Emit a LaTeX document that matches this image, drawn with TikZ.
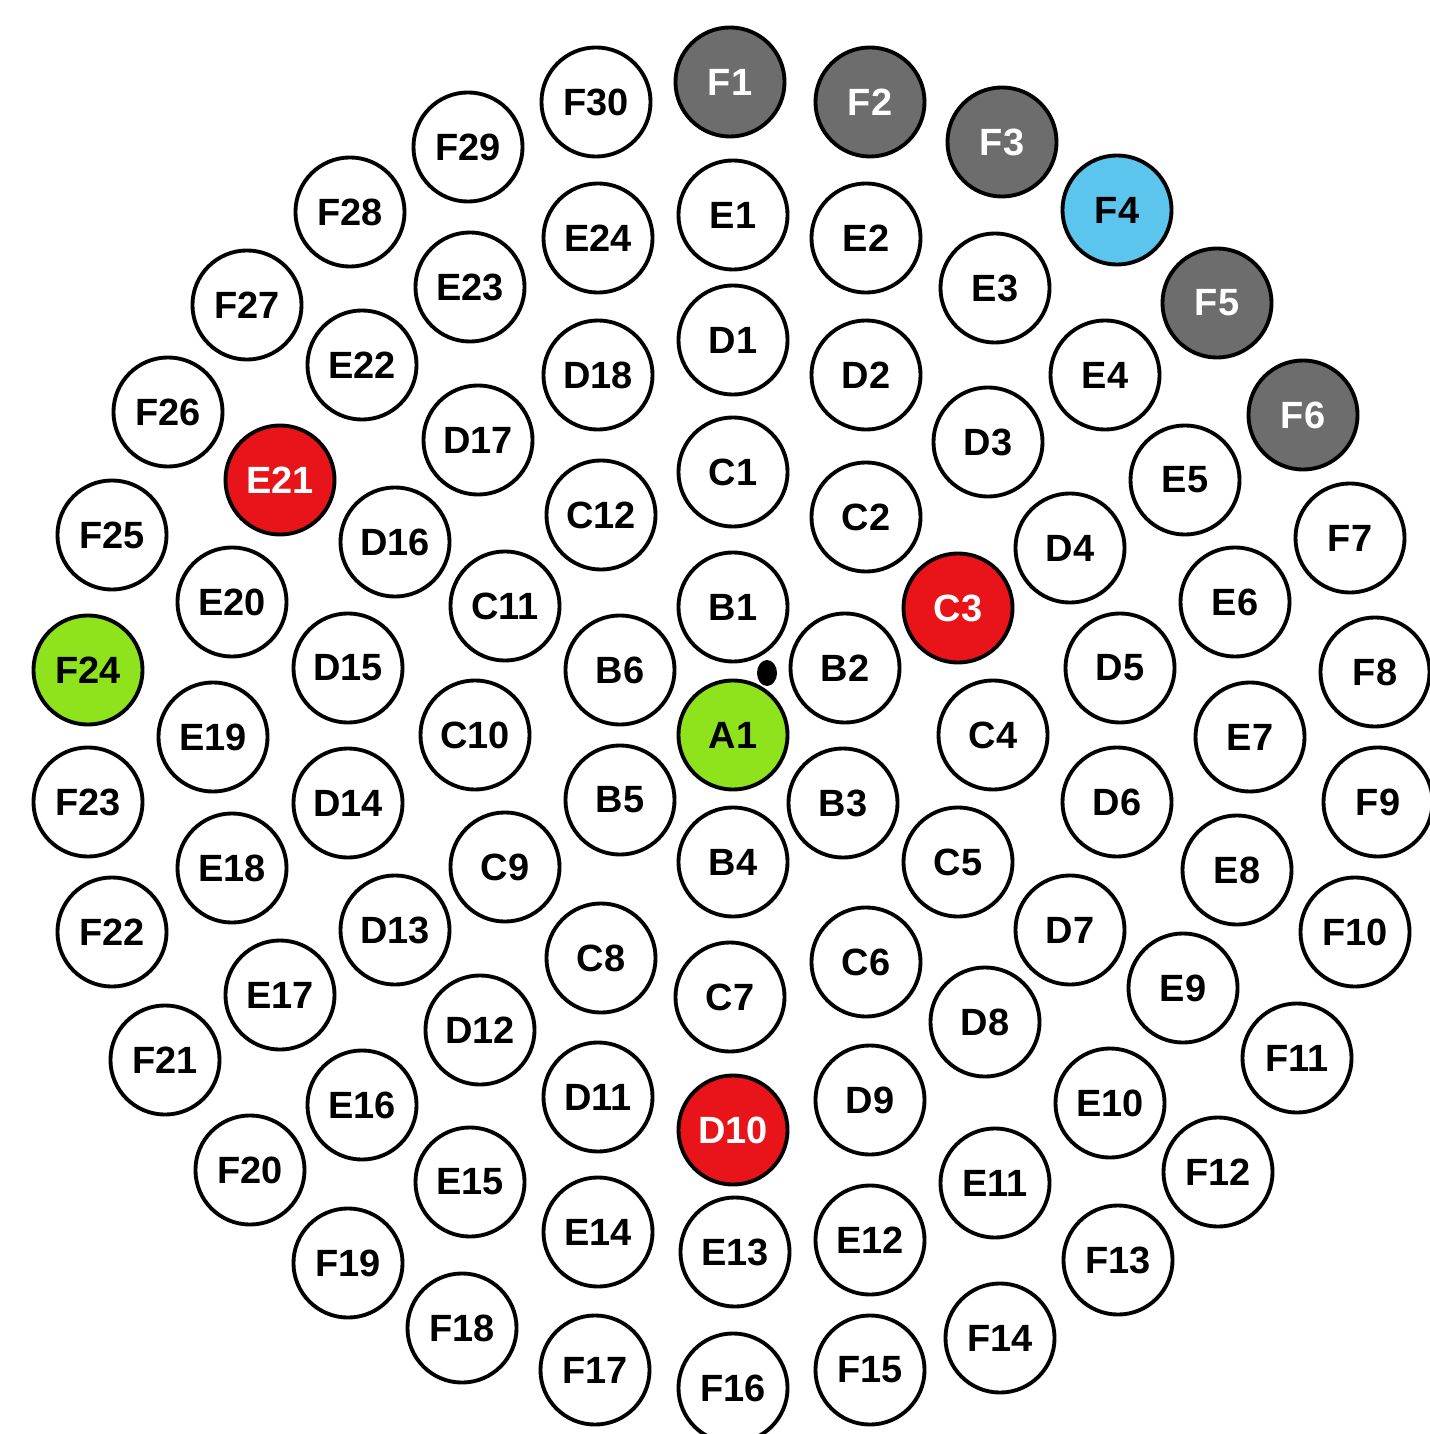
\documentclass[tikz,border=0pt]{standalone}
\usepackage{xcolor}
\usepackage{fontspec}
\setmainfont{Liberation Sans}
\usepackage{tikz}

\definecolor{cellgray}{HTML}{6D6D6D}
\definecolor{cellblue}{HTML}{5BC5EE}
\definecolor{cellgreen}{HTML}{8EE31C}
\definecolor{cellred}{HTML}{E8141A}

\begin{document}
\begin{tikzpicture}[
  x=0.01cm, y=-0.01cm,
  cell/.style={circle, draw, line width=1.1pt, fill=white,
               minimum size=1.09cm, inner sep=0pt,
               font=\fontsize{10.8}{13}\selectfont\bfseries},
  grey/.style={cell, fill=cellgray, text=white},
  blue/.style={cell, fill=cellblue},
  green/.style={cell, fill=cellgreen},
  red/.style={cell, fill=cellred, text=white}
]
\useasboundingbox (0,0) rectangle (1429,1434);

\node[green] (A1) at (733,735) {A1};

\node[cell] (B1) at (733,607) {B1};
\node[cell] (B2) at (845,668) {B2};
\node[cell] (B3) at (843,803) {B3};
\node[cell] (B4) at (733,862) {B4};
\node[cell] (B5) at (620,800) {B5};
\node[cell] (B6) at (620,670) {B6};

\node[cell] (C1) at (733,472) {C1};
\node[cell] (C2) at (866,517) {C2};
\node[red]  (C3) at (958,608) {C3};
\node[cell] (C4) at (993,735) {C4};
\node[cell] (C5) at (958,862) {C5};
\node[cell] (C6) at (866,962) {C6};
\node[cell] (C7) at (730,997) {C7};
\node[cell] (C8) at (601,958) {C8};
\node[cell] (C9) at (505,867) {C9};
\node[cell] (C10) at (475,735) {C10};
\node[cell] (C11) at (505,606) {C11};
\node[cell] (C12) at (601,515) {C12};

\node[cell] (D1) at (733,340) {D1};
\node[cell] (D2) at (866,375) {D2};
\node[cell] (D3) at (988,442) {D3};
\node[cell] (D4) at (1070,548) {D4};
\node[cell] (D5) at (1120,668) {D5};
\node[cell] (D6) at (1117,802) {D6};
\node[cell] (D7) at (1070,930) {D7};
\node[cell] (D8) at (985,1022) {D8};
\node[cell] (D9) at (870,1100) {D9};
\node[red]  (D10) at (733,1130) {D10};
\node[cell] (D11) at (598,1097) {D11};
\node[cell] (D12) at (480,1030) {D12};
\node[cell] (D13) at (395,930) {D13};
\node[cell] (D14) at (348,803) {D14};
\node[cell] (D15) at (348,668) {D15};
\node[cell] (D16) at (395,542) {D16};
\node[cell] (D17) at (478,440) {D17};
\node[cell] (D18) at (598,375) {D18};

\node[cell] (E1) at (733,215) {E1};
\node[cell] (E2) at (866,238) {E2};
\node[cell] (E3) at (995,288) {E3};
\node[cell] (E4) at (1105,375) {E4};
\node[cell] (E5) at (1185,480) {E5};
\node[cell] (E6) at (1235,602) {E6};
\node[cell] (E7) at (1250,737) {E7};
\node[cell] (E8) at (1237,870) {E8};
\node[cell] (E9) at (1183,988) {E9};
\node[cell] (E10) at (1110,1103) {E10};
\node[cell] (E11) at (995,1183) {E11};
\node[cell] (E12) at (870,1240) {E12};
\node[cell] (E13) at (735,1252) {E13};
\node[cell] (E14) at (598,1232) {E14};
\node[cell] (E15) at (470,1182) {E15};
\node[cell] (E16) at (362,1105) {E16};
\node[cell] (E17) at (280,995) {E17};
\node[cell] (E18) at (232,868) {E18};
\node[cell] (E19) at (213,737) {E19};
\node[cell] (E20) at (232,602) {E20};
\node[red]  (E21) at (280,480) {E21};
\node[cell] (E22) at (362,365) {E22};
\node[cell] (E23) at (470,287) {E23};
\node[cell] (E24) at (598,238) {E24};

\node[grey] (F1) at (730,82) {F1};
\node[grey] (F2) at (870,102) {F2};
\node[grey] (F3) at (1002,142) {F3};
\node[blue] (F4) at (1117,210) {F4};
\node[grey] (F5) at (1217,303) {F5};
\node[grey] (F6) at (1303,415) {F6};
\node[cell] (F7) at (1350,538) {F7};
\node[cell] (F8) at (1375,672) {F8};
\node[cell] (F9) at (1378,802) {F9};
\node[cell] (F10) at (1355,932) {F10};
\node[cell] (F11) at (1297,1058) {F11};
\node[cell] (F12) at (1218,1172) {F12};
\node[cell] (F13) at (1118,1260) {F13};
\node[cell] (F14) at (1000,1338) {F14};
\node[cell] (F15) at (870,1370) {F15};
\node[cell] (F16) at (733,1388) {F16};
\node[cell] (F17) at (595,1370) {F17};
\node[cell] (F18) at (462,1328) {F18};
\node[cell] (F19) at (348,1263) {F19};
\node[cell] (F20) at (250,1170) {F20};
\node[cell] (F21) at (165,1060) {F21};
\node[cell] (F22) at (112,932) {F22};
\node[cell] (F23) at (88,802) {F23};
\node[green] (F24) at (88,670) {F24};
\node[cell] (F25) at (112,535) {F25};
\node[cell] (F26) at (168,412) {F26};
\node[cell] (F27) at (247,305) {F27};
\node[cell] (F28) at (350,212) {F28};
\node[cell] (F29) at (468,147) {F29};
\node[cell] (F30) at (596,102) {F30};

\fill (767,673) ellipse [x radius=0.1cm, y radius=0.13cm];
\end{tikzpicture}
\end{document}
